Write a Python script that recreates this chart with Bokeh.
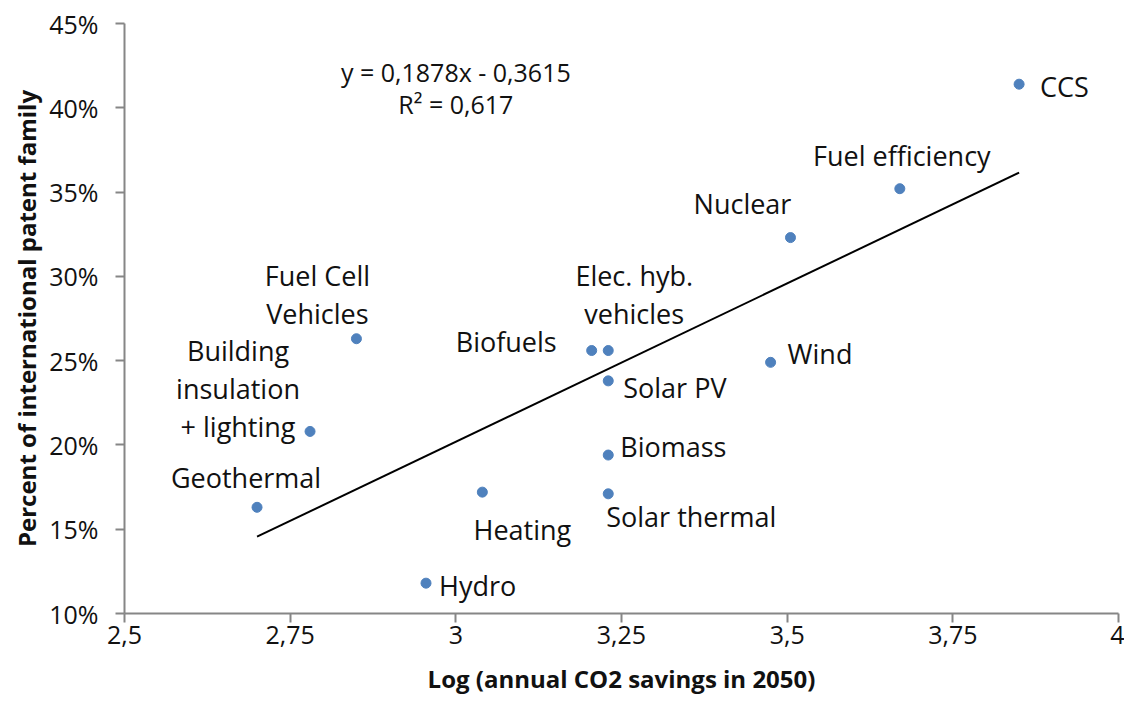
from bokeh.plotting import figure
from bokeh.models import (ColumnDataSource, FixedTicker, CustomJSTickFormatter,
                          NumeralTickFormatter, Label, Range1d)
from bokeh.embed import file_html
from bokeh.resources import INLINE
from bokeh.core.properties import value

# ---- data ----
technologies = ["CCS", "Fuel efficiency", "Nuclear", "Wind", "Elec. hyb.\nvehicles",
                "Biofuels", "Solar PV", "Biomass", "Solar thermal", "Heating", "Hydro",
                "Fuel Cell\nVehicles", "Building\ninsulation\n+ lighting", "Geothermal"]
log_co2_savings = [3.85, 3.67, 3.505, 3.475, 3.23, 3.205, 3.23, 3.23, 3.23, 3.04,
                   2.955, 2.85, 2.78, 2.70]
patent_share = [0.414, 0.352, 0.323, 0.249, 0.256, 0.256, 0.238, 0.194, 0.171, 0.172,
                0.118, 0.263, 0.208, 0.163]
trend_slope = 0.1878
trend_intercept = -0.3615
r_squared = "0,617"
x_ticks = [2.5, 2.75, 3.0, 3.25, 3.5, 3.75, 4.0]
y_ticks = [0.10, 0.15, 0.20, 0.25, 0.30, 0.35, 0.40, 0.45]
x_title = "Log (annual CO2 savings in 2050)"
y_title = "Percent of international patent family"

# ---- label placement (style: pixel offsets from each point) ----
label_align = ["left", "center", "center", "left", "center", "right", "left", "left",
               "left", "center", "left", "center", "center", "center"]
label_dx = [21, 2, -48, 17, 26, -35, 15, 12, -2, 40, 13, -39, -72, -11]
label_dy = [2, -33, -34, -9, -56, -9, 7, -9, 23, 37, 2, -44, -43, -30]
LINE_GAP = 38

FONT = "Open Sans"
TXT = "#111111"

p = figure(width=1124, height=697, output_backend="svg", toolbar_location=None,
           x_range=Range1d(2.5, 4.0), y_range=Range1d(0.10, 0.45),
           min_border_left=124, min_border_right=6, min_border_top=23,
           min_border_bottom=0)
p.outline_line_color = None
p.xgrid.visible = False
p.ygrid.visible = False
p.background_fill_color = "white"
p.border_fill_color = "white"

for ax in (p.xaxis[0], p.yaxis[0]):
    ax.axis_line_color = "#868686"
    ax.axis_line_width = 2
    ax.major_tick_line_color = "#868686"
    ax.major_tick_line_width = 2
    ax.major_tick_out = 9
    ax.major_tick_in = 0
    ax.minor_tick_line_color = None
    ax.major_label_text_font = FONT
    ax.major_label_text_font_size = "25px"
    ax.major_label_text_color = TXT
    ax.axis_label_text_font = FONT
    ax.axis_label_text_font_style = "bold"
    ax.axis_label_text_font_size = "24px"
    ax.axis_label_text_color = TXT

p.xaxis.ticker = FixedTicker(ticks=x_ticks)
p.yaxis.ticker = FixedTicker(ticks=y_ticks)
p.xaxis.formatter = CustomJSTickFormatter(code="return tick.toString().replace('.', ',');")
p.yaxis.formatter = NumeralTickFormatter(format="0%")
p.xaxis.axis_label = x_title
p.yaxis.axis_label = y_title
p.xaxis.major_label_standoff = 3
p.xaxis.axis_label_standoff = 15
p.yaxis.major_label_standoff = 17
p.yaxis.axis_label_standoff = 3

# trend line
x0, x1 = min(log_co2_savings), max(log_co2_savings)
p.line([x0, x1], [trend_slope * x0 + trend_intercept, trend_slope * x1 + trend_intercept],
       line_color="black", line_width=2)

# points
src = ColumnDataSource(dict(x=log_co2_savings, y=patent_share))
p.scatter("x", "y", source=src, size=10, marker="circle",
          fill_color="#4F81BD", line_color="#4F81BD")

# labels (split multi-line)
lx, ly, lt, la, ldx, ldy = [], [], [], [], [], []
for name, xv, yv, al, dx, dy in zip(technologies, log_co2_savings, patent_share,
                                    label_align, label_dx, label_dy):
    lines = name.split("\n")
    n = len(lines)
    for k, ln in enumerate(lines):
        lx.append(xv); ly.append(yv); lt.append(ln); la.append(al)
        ldx.append(dx); ldy.append(dy + (k - (n - 1) / 2) * LINE_GAP)
lsrc = ColumnDataSource(dict(x=lx, y=ly, t=lt, a=la, dx=ldx, dy=ldy))
p.text("x", "y", text="t", source=lsrc, text_align="a", text_baseline="middle",
       x_offset="dx", y_offset="dy", text_font=value(FONT), text_font_size="27px",
       text_color=TXT)

# equation
eq = "y = {}x - {}".format(str(trend_slope).replace(".", ","),
                           str(abs(trend_intercept)).replace(".", ","))
p.add_layout(Label(x=3.0, y=0.421, text=eq, text_align="center", text_baseline="middle",
                   text_font=FONT, text_font_size="25px", text_color=TXT))
p.add_layout(Label(x=3.0, y=0.402, text="R² = " + r_squared, text_align="center",
                   text_baseline="middle", text_font=FONT, text_font_size="25px",
                   text_color=TXT))

open("out.html", "w").write(file_html(p, INLINE))
